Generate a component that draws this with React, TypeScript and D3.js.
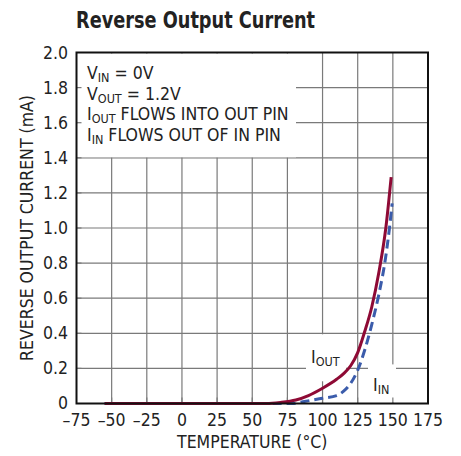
import { useMemo } from "react";
import * as d3 from "d3";

// temperature (°C) vs reverse current (mA)
const ioutTemp = [-55, 60, 70, 81, 90, 100, 110, 115, 120, 125, 130, 135, 140, 145, 148.8];
const ioutVal = [0, 0, 0.006, 0.02, 0.045, 0.087, 0.138, 0.17, 0.215, 0.29, 0.41, 0.55, 0.745, 1.0, 1.29];
const iinTemp = [-55, 78, 86, 100, 110, 115, 120, 125, 130, 135, 140, 145, 147.6, 149.5];
const iinVal = [0, 0, 0.01, 0.03, 0.045, 0.07, 0.115, 0.19, 0.305, 0.45, 0.62, 0.84, 1.0, 1.14];

const xTicks = [-75, -50, -25, 0, 25, 50, 75, 100, 125, 150, 175];
const yTicks = [0, 0.2, 0.4, 0.6, 0.8, 1.0, 1.2, 1.4, 1.6, 1.8, 2.0];

const FONT = "'Liberation Sans Narrow', 'DejaVu Sans Condensed', 'Liberation Sans', sans-serif";
const RED = "#8e0a35";
const BLUE = "#3b5cab";
const GRID = "#7a7a7a";

export default function App() {
  const width = 461;
  const height = 456;
  const margin = { top: 52.5, right: 33, bottom: 52.5, left: 76.5 };

  const x = d3.scaleLinear().domain([-75, 175]).range([margin.left, width - margin.right]);
  const y = d3.scaleLinear().domain([0, 2]).range([height - margin.bottom, margin.top]);

  const line = d3
    .line<[number, number]>()
    .x((d) => x(d[0]))
    .y((d) => y(d[1]))
    .curve(d3.curveMonotoneX);

  const ioutPath = useMemo(() => line(ioutTemp.map((t, i) => [t, ioutVal[i]])) ?? "", []);
  const iinPath = useMemo(() => line(iinTemp.map((t, i) => [t, iinVal[i]])) ?? "", []);

  const fmtY = (v: number) => (v === 0 ? "0" : v.toFixed(1));
  const fmtX = (v: number) => (v < 0 ? "–" + Math.abs(v) : String(v));

  const x0 = x(-75), x1 = x(175), y0 = y(0), y1 = y(2);

  return (
    <svg width={width} height={height} style={{ position: "absolute", left: 0, top: 0, background: "#fff" }} fontFamily={FONT}>
      <text x={76} y={28} fontSize={22.5} fontWeight="bold" fill="#222" textLength={239} lengthAdjust="spacingAndGlyphs">Reverse Output Current</text>

      {/* grid */}
      {xTicks.slice(1, -1).map((t) => (
        <line key={"gx" + t} x1={x(t)} x2={x(t)} y1={y0} y2={y1} stroke={GRID} strokeWidth={1.2} />
      ))}
      {yTicks.slice(1, -1).map((t) => (
        <line key={"gy" + t} x1={x0} x2={x1} y1={y(t)} y2={y(t)} stroke={GRID} strokeWidth={1.2} />
      ))}

      {/* white masks behind text */}
      <rect x={x0 + 1} y={y1 + 1} width={295 - x0} height={y(1.4) - y1 - 1.5} fill="#fff" />
      <rect x={306} y={y(0.4) + 1} width={40} height={47} fill="#fff" />
      <rect x={368} y={y(0.2) - 4} width={28} height={y(0) - y(0.2) + 3} fill="#fff" />

      {/* inner ticks */}
      {yTicks.slice(1, -1).map((t) => (
        <line key={"ty" + t} x1={x0} x2={x0 + 5} y1={y(t)} y2={y(t)} stroke={GRID} strokeWidth={1.2} />
      ))}
      {xTicks.slice(1, -1).map((t) => (
        <line key={"tx" + t} x1={x(t)} x2={x(t)} y1={y0} y2={y0 - 6} stroke={GRID} strokeWidth={1.2} />
      ))}

      {/* curves */}
      <path d={iinPath} fill="none" stroke={BLUE} strokeWidth={3} strokeDasharray="9,5" />
      <path d={ioutPath} fill="none" stroke={RED} strokeWidth={3} />

      {/* frame */}
      <rect x={x0} y={y1} width={x1 - x0} height={y0 - y1} fill="none" stroke="#111" strokeWidth={2} />

      {/* y tick labels */}
      {yTicks.map((t) => (
        <text key={"ly" + t} x={68} y={y(t) + (t === 0 ? 5 : 6)} textAnchor="end" fontSize={17.5} fill="#222">{fmtY(t)}</text>
      ))}
      {/* x tick labels */}
      {xTicks.map((t) => (
        <text key={"lx" + t} x={x(t)} y={426} textAnchor="middle" fontSize={17.5} fill="#222">{fmtX(t)}</text>
      ))}

      <text x={(x0 + x1) / 2} y={448} textAnchor="middle" fontSize={17.5} fill="#222">TEMPERATURE (°C)</text>
      <text transform={`translate(33,${(y0 + y1) / 2}) rotate(-90)`} textAnchor="middle" fontSize={17.5} fill="#222">REVERSE OUTPUT CURRENT (mA)</text>

      {/* conditions */}
      <g fontSize={17.5} fill="#222">
        <text x={87} y={79}>V<tspan fontSize={12.5} dy={3}>IN</tspan><tspan dy={-3}> = 0V</tspan></text>
        <text x={87} y={99.5}>V<tspan fontSize={12.5} dy={3}>OUT</tspan><tspan dy={-3}> = 1.2V</tspan></text>
        <text x={87} y={120}>I<tspan fontSize={12.5} dy={3}>OUT</tspan><tspan dy={-3}> FLOWS INTO OUT PIN</tspan></text>
        <text x={87} y={140.5}>I<tspan fontSize={12.5} dy={3}>IN</tspan><tspan dy={-3}> FLOWS OUT OF IN PIN</tspan></text>
      </g>

      {/* curve labels */}
      <text x={311} y={363} fontSize={17.5} fill="#222">I<tspan fontSize={12.5} dy={3}>OUT</tspan></text>
      <text x={373} y={391} fontSize={17.5} fill="#222">I<tspan fontSize={12.5} dy={3}>IN</tspan></text>
    </svg>
  );
}
